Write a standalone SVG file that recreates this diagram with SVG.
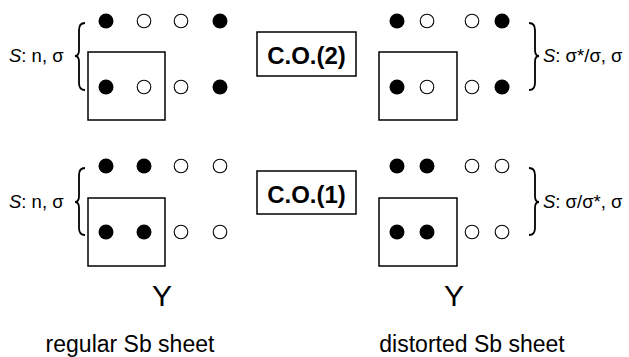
<svg xmlns="http://www.w3.org/2000/svg" width="629" height="357" viewBox="0 0 629 357">
<style>
text{font-family:"Liberation Sans",Arial,sans-serif;fill:#000}
.f{fill:#000}
.o{fill:#fff;stroke:#000;stroke-width:1.1}
.box{fill:none;stroke:#000;stroke-width:1.5}
.br{fill:none;stroke:#000;stroke-width:1.8}
.lab{font-size:18.5px}
.co{font-size:24px;font-weight:bold}
.y{font-size:30px}
.cap{font-size:23px}
</style>
<rect width="629" height="357" fill="#fff"/>
<defs>
<circle id="F" r="7.5" class="f"/>
<circle id="O" r="6.8" class="o"/>
</defs>

<g id="top-left">
<rect class="box" x="88" y="52" width="77" height="68"/>
<use href="#F" x="106" y="21"/><use href="#O" x="144" y="21"/><use href="#O" x="181" y="21"/><use href="#F" x="220" y="21"/>
<use href="#F" x="106" y="87"/><use href="#O" x="144" y="87"/><use href="#O" x="181" y="87"/><use href="#F" x="220" y="87"/>
<path class="br" d="M85,23 Q79,23 79,30 L79,50 Q79,56 75,56 Q79,56 79,62 L79,83 Q79,90 85,90"/>
<text class="lab" x="9" y="62"><tspan font-style="italic">S</tspan>: n, σ</text>
</g>

<g id="co2">
<rect class="box" x="257" y="32" width="99" height="44"/>
<text class="co" x="306.5" y="64" text-anchor="middle">C.O.(2)</text>
</g>

<g id="top-right">
<rect class="box" x="379" y="52" width="78" height="68"/>
<use href="#F" x="397" y="21"/><use href="#O" x="427" y="21"/><use href="#O" x="472" y="21"/><use href="#F" x="502" y="21"/>
<use href="#F" x="397" y="87"/><use href="#O" x="427" y="87"/><use href="#O" x="472" y="87"/><use href="#F" x="502" y="87"/>
<path class="br" d="M529,23 Q535,23 535,30 L535,50 Q535,56 539,56 Q535,56 535,62 L535,83 Q535,90 529,90"/>
<text class="lab" x="543" y="62"><tspan font-style="italic">S</tspan>: σ*/σ, σ</text>
</g>

<g id="bottom-left">
<rect class="box" x="88" y="198" width="77" height="68"/>
<use href="#F" x="106" y="166"/><use href="#F" x="144" y="166"/><use href="#O" x="181" y="166"/><use href="#O" x="220" y="166"/>
<use href="#F" x="106" y="232"/><use href="#F" x="144" y="232"/><use href="#O" x="181" y="232"/><use href="#O" x="220" y="232"/>
<path class="br" d="M85,168 Q79,168 79,175 L79,196 Q79,202 75,202 Q79,202 79,208 L79,228 Q79,235 85,235"/>
<text class="lab" x="9" y="208"><tspan font-style="italic">S</tspan>: n, σ</text>
</g>

<g id="co1">
<rect class="box" x="257" y="171" width="99" height="43"/>
<text class="co" x="306.5" y="202.5" text-anchor="middle">C.O.(1)</text>
</g>

<g id="bottom-right">
<rect class="box" x="379" y="198" width="78" height="68"/>
<use href="#F" x="397" y="166"/><use href="#F" x="427" y="166"/><use href="#O" x="472" y="166"/><use href="#O" x="502" y="166"/>
<use href="#F" x="397" y="232"/><use href="#F" x="427" y="232"/><use href="#O" x="472" y="232"/><use href="#O" x="502" y="232"/>
<path class="br" d="M529,168 Q535,168 535,175 L535,196 Q535,202 539,202 Q535,202 535,208 L535,228 Q535,235 529,235"/>
<text class="lab" x="543" y="208"><tspan font-style="italic">S</tspan>: σ/σ*, σ</text>
</g>

<g id="labels">
<text class="y" x="162" y="306" text-anchor="middle">Y</text>
<text class="y" x="454" y="306" text-anchor="middle">Y</text>
<text class="cap" x="130" y="352" text-anchor="middle">regular Sb sheet</text>
<text class="cap" x="472" y="352" text-anchor="middle">distorted Sb sheet</text>
</g>

<g id="connectors"></g>
</svg>
